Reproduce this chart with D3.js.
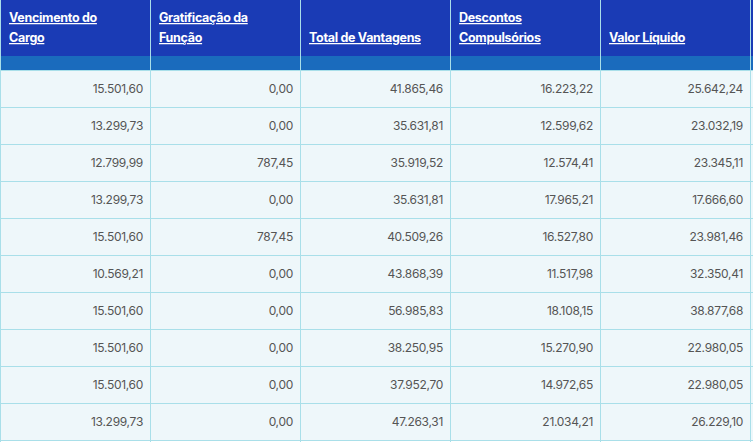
<!DOCTYPE html>
<html><head><meta charset="utf-8">
<script src="https://cdn.jsdelivr.net/npm/d3@7"></script>
<style>body{margin:0;background:#fff}</style>
</head><body><div id="chart"></div>
<script>
var headers = [["Vencimento do", "Cargo"], ["Gratificação da", "Função"], ["Total de Vantagens"], ["Descontos", "Compulsórios"], ["Valor Líquido"]];
var vencimento = ["15.501,60","13.299,73","12.799,99","13.299,73","15.501,60","10.569,21","15.501,60","15.501,60","15.501,60","13.299,73"];
var gratificacao = ["0,00","0,00","787,45","0,00","787,45","0,00","0,00","0,00","0,00","0,00"];
var vantagens = ["41.865,46","35.631,81","35.919,52","35.631,81","40.509,26","43.868,39","56.985,83","38.250,95","37.952,70","47.263,31"];
var descontos = ["16.223,22","12.599,62","12.574,41","17.965,21","16.527,80","11.517,98","18.108,15","15.270,90","14.972,65","21.034,21"];
var liquido = ["25.642,24","23.032,19","23.345,11","17.666,60","23.981,46","32.350,41","38.877,68","22.980,05","22.980,05","26.229,10"];

var columns = [vencimento, gratificacao, vantagens, descontos, liquido];
var W = 753, H = 442, headH = 56, stripH = 14, rowH = 37;
var x = d3.scaleBand().domain(d3.range(5)).range([1, 751]);
var y = d3.scaleBand().domain(d3.range(10)).range([headH + stripH, headH + stripH + rowH * 10]);

var svg = d3.select('#chart').append('svg').attr('width', W).attr('height', H);
svg.append('rect').attr('width', W).attr('height', headH).attr('fill', '#1a3bb5');
svg.append('rect').attr('y', headH).attr('width', W).attr('height', stripH).attr('fill', '#1a6bbd');
svg.append('rect').attr('y', headH + stripH).attr('width', W).attr('height', rowH * 10).attr('fill', '#eef7fa');

// header labels
var hg = svg.selectAll('g.h').data(headers).enter().append('g')
    .attr('transform', function (d, i) { return 'translate(' + (x(i) + 8) + ',0)'; });
hg.selectAll('text').data(function (d) { return d.length == 1 ? [[d[0], 42]] : [[d[0], 22], [d[1], 42]]; })
    .enter().append('text')
    .attr('y', function (d) { return d[1]; })
    .attr('fill', '#fff').attr('font-family', 'Inter, sans-serif').attr('font-weight', 700)
    .attr('font-size', 12.5).attr('letter-spacing', -0.3)
    .style('text-decoration', 'underline dotted')
    .text(function (d) { return d[0]; });

// grid lines
svg.selectAll('line.r').data(d3.range(11)).enter().append('line')
    .attr('x1', 0).attr('x2', W)
    .attr('y1', function (d) { return headH + stripH + d * rowH + 0.5; })
    .attr('y2', function (d) { return headH + stripH + d * rowH + 0.5; })
    .attr('stroke', '#a9dfe9');
svg.selectAll('line.c').data(d3.range(6)).enter().append('line')
    .attr('x1', function (d) { return (d < 5 ? x(d) : 751) - 0.5; })
    .attr('x2', function (d) { return (d < 5 ? x(d) : 751) - 0.5; })
    .attr('y1', 0).attr('y2', H)
    .attr('stroke', function () { return '#a9dfe9'; });

// cells
columns.forEach(function (col, i) {
    svg.selectAll(null).data(col).enter().append('text')
        .attr('x', x(i) + x.bandwidth() - 8)
        .attr('y', function (d, j) { return y(j) + rowH / 2 + 4; })
        .attr('text-anchor', 'end')
        .attr('font-family', 'Inter, sans-serif').attr('font-size', 12)
        .attr('letter-spacing', -0.3)
        .attr('fill', '#555')
        .text(function (d) { return d; });
});
</script></body></html>
